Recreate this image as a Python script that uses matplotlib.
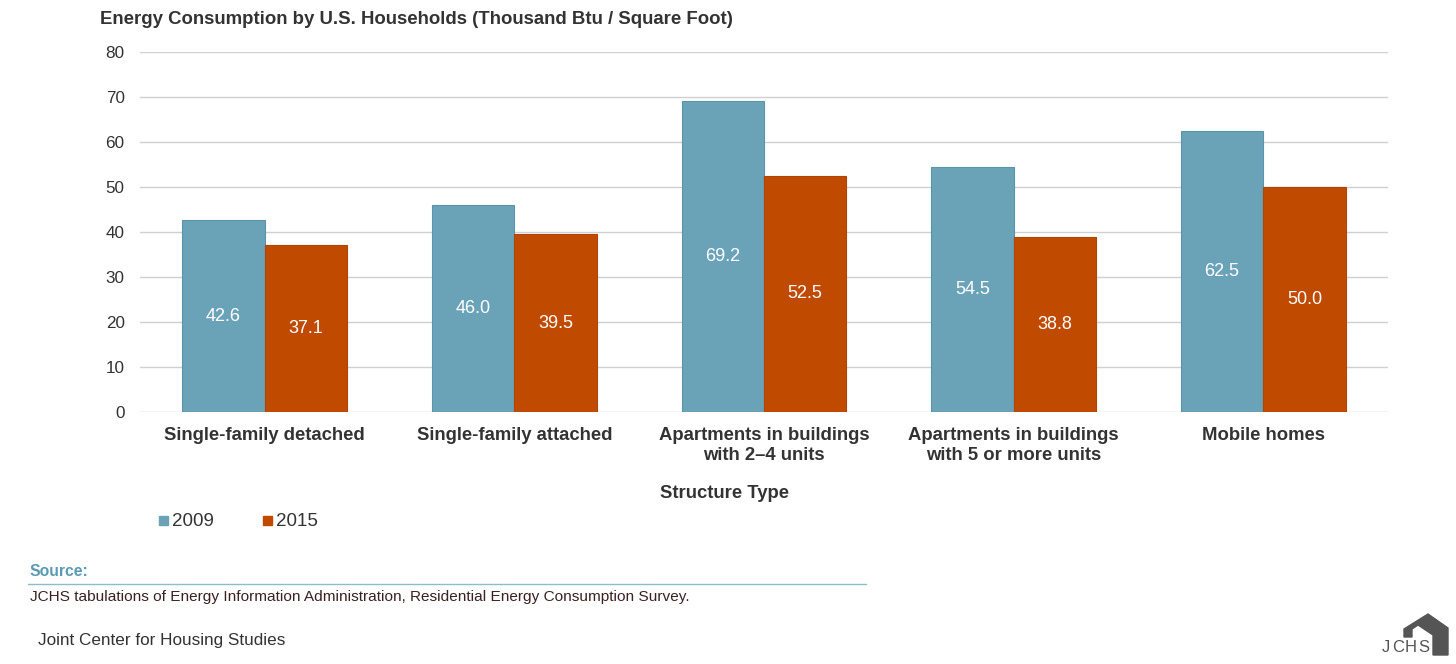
import matplotlib
matplotlib.use("Agg")
import matplotlib.pyplot as plt
from matplotlib.patches import Polygon, Rectangle
import numpy as np

plt.rcParams['font.family'] = ['Liberation Sans', 'DejaVu Sans']

categories = ["Single-family detached", "Single-family attached",
              "Apartments in buildings\nwith 2\u20134 units",
              "Apartments in buildings\nwith 5 or more units", "Mobile homes"]
series_names = ["2009", "2015"]
values_2009 = [42.6, 46.0, 69.2, 54.5, 62.5]
values_2015 = [37.1, 39.5, 52.5, 38.8, 50.0]
yticks = [0, 10, 20, 30, 40, 50, 60, 70, 80]

W, H = 1456, 664
fig = plt.figure(figsize=(W / 100, H / 100), dpi=100)
fig.patch.set_facecolor("white")

def fx(px):
    return px / W

def fy(py):
    return 1 - py / H

ax = fig.add_axes([fx(140), fy(412), fx(1388) - fx(140), fy(52) - fy(412)])

c09 = "#6aa2b8"
c15 = "#c04b00"
x = np.arange(len(categories))
bw = 0.33
b1 = ax.bar(x - bw / 2, values_2009, bw, color=c09, edgecolor="#5a93aa", linewidth=0.8, zorder=3)
b2 = ax.bar(x + bw / 2, values_2015, bw, color=c15, edgecolor="#b04400", linewidth=0.8, zorder=3)
for bars, vals in ((b1, values_2009), (b2, values_2015)):
    for r, v in zip(bars, vals):
        ax.text(r.get_x() + r.get_width() / 2, v / 2, f"{v:.1f}", ha="center", va="center",
                color="white", fontsize=13, zorder=4)

ax.set_xlim(-0.5, len(categories) - 0.5)
ax.set_ylim(0, 80)
ax.set_yticks(yticks)
ax.set_yticklabels([str(t) for t in yticks], fontsize=12.3, color="#333333")
ax.yaxis.grid(True, color="#d0d0d0", linewidth=1.0, zorder=0)
ax.set_axisbelow(True)
for s in ax.spines.values():
    s.set_visible(False)
ax.tick_params(axis="y", length=0, pad=11)
ax.tick_params(axis="x", length=0, pad=10.5)
ax.set_xticks(x)
ax.set_xticklabels(categories, fontsize=13.3, fontweight="bold", color="#333333", linespacing=1.3)
for lbl in ax.get_xticklabels():
    lbl.set_va("top")

fig.text(fx(100), fy(19), "Energy Consumption by U.S. Households (Thousand Btu / Square Foot)",
         fontsize=13.4, fontweight="bold", color="#333333", va="center", ha="left")
fig.text(fx(724), fy(494), "Structure Type", fontsize=13.3, fontweight="bold",
         color="#333333", ha="center", va="center")

# legend
for px, name, col in ((159, series_names[0], c09), (263, series_names[1], c15)):
    fig.patches.append(Rectangle((fx(px), fy(525)), fx(9), fy(516) - fy(525), color=col,
                                 transform=fig.transFigure, figure=fig))
    fig.text(fx(px + 13), fy(521), name, fontsize=13.5, color="#333333", va="center", ha="left")

fig.text(fx(30), fy(572), "Source:", fontsize=11.3, fontweight="bold", color="#5b9ab5",
         va="center", ha="left")
fig.lines.append(plt.Line2D([fx(28), fx(866)], [fy(584), fy(584)], color="#8fbccc",
                            linewidth=1.0, transform=fig.transFigure, figure=fig))
fig.text(fx(30), fy(597), "JCHS tabulations of Energy Information Administration, Residential Energy Consumption Survey.",
         fontsize=11.1, color="#3a2222", va="center", ha="left")
fig.text(fx(38), fy(640), "Joint Center for Housing Studies", fontsize=12.3, color="#333333",
         va="center", ha="left")

# logo
house = [(1404, 637), (1404, 629), (1428, 614), (1448, 628), (1448, 655), (1433, 655),
         (1433, 635), (1418, 625), (1412, 629), (1412, 637)]
fig.patches.append(Polygon([(fx(a), fy(b)) for a, b in house], closed=True, color="#555555",
                           transform=fig.transFigure, figure=fig))
for cx, ch in zip((1386, 1398, 1411, 1424), "JCHS"):
    fig.text(fx(cx), fy(648), ch, fontsize=12, color="#555555", va="center", ha="center")

fig.savefig("out.png", dpi=100)
